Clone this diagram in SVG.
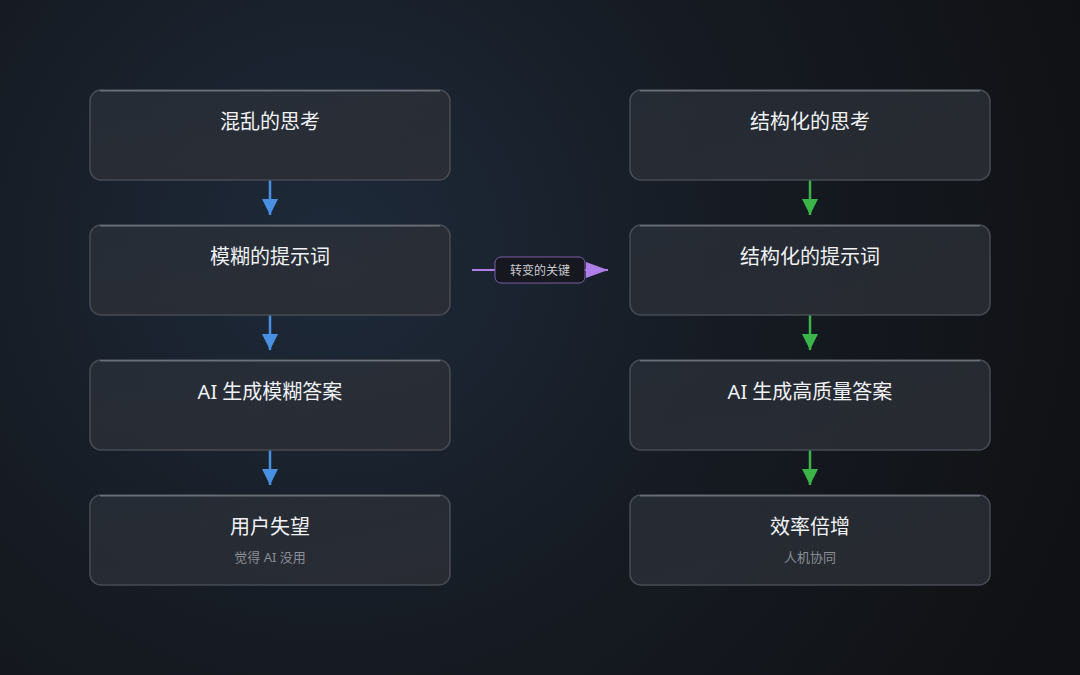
<svg xmlns="http://www.w3.org/2000/svg" width="1080" height="675" viewBox="0 0 1080 675">
<defs>
<radialGradient id="bg" cx="330" cy="250" r="800" gradientUnits="userSpaceOnUse">
<stop offset="0" stop-color="#1e2a3a"/>
<stop offset="0.5" stop-color="#161b23"/>
<stop offset="1" stop-color="#101114"/>
</radialGradient>
<linearGradient id="card" x1="0" y1="0" x2="1" y2="1">
<stop offset="0" stop-color="#2a3039" stop-opacity="0.75"/>
<stop offset="1" stop-color="#2c2e35" stop-opacity="0.85"/>
</linearGradient>
<marker id="blue" viewBox="0 0 10 10" refX="10" refY="5" markerWidth="16" markerHeight="16" markerUnits="userSpaceOnUse" orient="auto"><path d="M0,0 L10,5 L0,10 z" fill="#4a90e2"/></marker>
<marker id="green" viewBox="0 0 10 10" refX="10" refY="5" markerWidth="16" markerHeight="16" markerUnits="userSpaceOnUse" orient="auto"><path d="M0,0 L10,5 L0,10 z" fill="#3bb54a"/></marker>
<marker id="purple" viewBox="0 0 10 10" refX="10" refY="5" markerWidth="22" markerHeight="16" markerUnits="userSpaceOnUse" orient="auto" preserveAspectRatio="none"><path d="M0,0 L10,5 L0,10 z" fill="#b07ee8"/></marker>
</defs>
<style>
.box{fill:url(#card);stroke:#474b53;stroke-width:1.5}
.hl{stroke:#6a6e76;stroke-width:1.5;fill:none}
.t{font-family:"Noto Sans","Noto Sans CJK SC",sans-serif;font-size:20px;fill:#f0f2f5;text-anchor:middle}
.s{font-family:"Noto Sans","Noto Sans CJK SC",sans-serif;font-size:13px;fill:#8a8e95;text-anchor:middle}
.lb{font-family:"Noto Sans","Noto Sans CJK SC",sans-serif;font-size:12px;fill:#c8ccd2;text-anchor:middle}
.ab{stroke:#4a90e2;stroke-width:2.5;fill:none;marker-end:url(#blue)}
.ag{stroke:#3bb54a;stroke-width:2.5;fill:none;marker-end:url(#green)}
</style>
<rect width="1080" height="675" fill="url(#bg)"/>

<g id="connectors">
<line class="ab" x1="270" y1="180" x2="270" y2="215"/>
<line class="ab" x1="270" y1="315" x2="270" y2="350"/>
<line class="ab" x1="270" y1="450" x2="270" y2="485"/>
<line class="ag" x1="810" y1="180" x2="810" y2="215"/>
<line class="ag" x1="810" y1="315" x2="810" y2="350"/>
<line class="ag" x1="810" y1="450" x2="810" y2="485"/>
<line x1="472" y1="270" x2="608" y2="270" stroke="#b07ee8" stroke-width="2" marker-end="url(#purple)"/>
<g id="label-transform">
<rect x="495" y="257" width="90" height="26" rx="6" fill="#17171f" stroke="#7a5fa8" stroke-width="1"/>
<text class="lb" x="540" y="274.500">转变的关键</text>
</g>
</g>

<g id="n-l1"><rect class="box" x="90" y="90" width="360" height="90" rx="11"/><path class="hl" d="M100,90.800 H440"/><text class="t" x="270" y="129">混乱的思考</text></g>
<g id="n-l2"><rect class="box" x="90" y="225" width="360" height="90" rx="11"/><path class="hl" d="M100,225.800 H440"/><text class="t" x="270" y="264">模糊的提示词</text></g>
<g id="n-l3"><rect class="box" x="90" y="360" width="360" height="90" rx="11"/><path class="hl" d="M100,360.800 H440"/><text class="t" x="270" y="399">AI 生成模糊答案</text></g>
<g id="n-l4"><rect class="box" x="90" y="495" width="360" height="90" rx="11"/><path class="hl" d="M100,495.800 H440"/><text class="t" x="270" y="534">用户失望</text><text class="s" x="270" y="562">觉得 AI 没用</text></g>

<g id="n-r1"><rect class="box" x="630" y="90" width="360" height="90" rx="11"/><path class="hl" d="M640,90.800 H980"/><text class="t" x="810" y="129">结构化的思考</text></g>
<g id="n-r2"><rect class="box" x="630" y="225" width="360" height="90" rx="11"/><path class="hl" d="M640,225.800 H980"/><text class="t" x="810" y="264">结构化的提示词</text></g>
<g id="n-r3"><rect class="box" x="630" y="360" width="360" height="90" rx="11"/><path class="hl" d="M640,360.800 H980"/><text class="t" x="810" y="399">AI 生成高质量答案</text></g>
<g id="n-r4"><rect class="box" x="630" y="495" width="360" height="90" rx="11"/><path class="hl" d="M640,495.800 H980"/><text class="t" x="810" y="534">效率倍增</text><text class="s" x="810" y="562">人机协同</text></g>
</svg>
